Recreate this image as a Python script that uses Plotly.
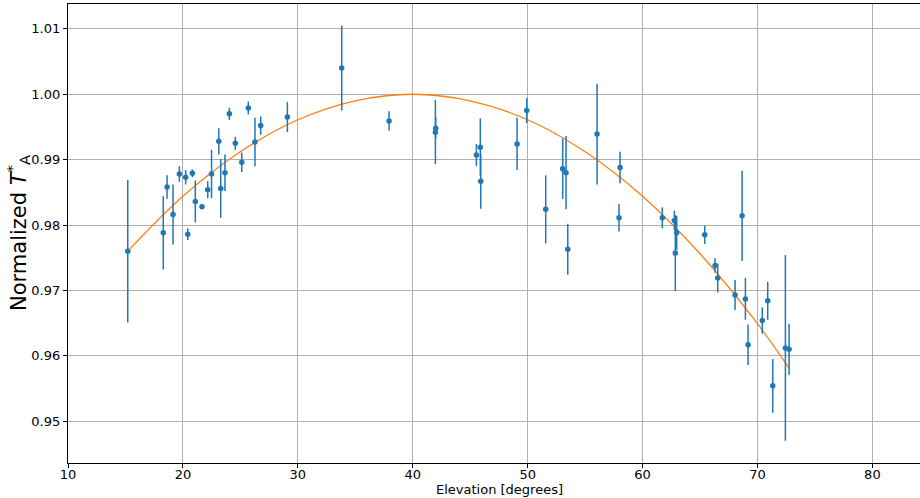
import plotly.graph_objects as go

# Measured points
elevation = [15.2, 18.29, 18.62, 19.14, 19.69, 20.24, 20.42, 20.82, 21.08, 21.66,
             22.16, 22.49, 23.12, 23.29, 23.66, 24.04, 24.56, 25.12, 25.69, 26.27,
             26.77, 29.09, 33.82, 37.94, 41.97, 42.00, 45.54, 45.88, 45.92, 49.08,
             49.92, 51.57, 53.05, 53.34, 53.49, 56.04, 57.95, 58.04, 61.72, 62.77,
             62.85, 62.97, 65.41, 66.31, 66.54, 68.05, 68.66, 68.95, 69.18, 70.42,
             70.89, 71.33, 72.43, 72.75]
norm_ta = [0.9760, 0.9788, 0.9858, 0.9816, 0.9878, 0.9873, 0.9786, 0.9879, 0.9836, 0.9828,
           0.9854, 0.9878, 0.9928, 0.9856, 0.9880, 0.9970, 0.9925, 0.9896, 0.9979, 0.9927,
           0.9952, 0.9965, 1.0040, 0.9959, 0.9942, 0.9948, 0.9907, 0.9919, 0.9867, 0.9924,
           0.9975, 0.9824, 0.9886, 0.9880, 0.9763, 0.9939, 0.9811, 0.9888, 0.9811, 0.9807,
           0.9757, 0.9788, 0.9785, 0.9738, 0.9719, 0.9693, 0.9814, 0.9687, 0.9617, 0.9654,
           0.9684, 0.9554, 0.9612, 0.9610]
norm_err = [0.0109, 0.0056, 0.0018, 0.0046, 0.0012, 0.0011, 0.0009, 0.0006, 0.0032, 0.0002,
            0.0013, 0.0037, 0.0020, 0.0045, 0.0028, 0.00095, 0.0010, 0.0015, 0.0010, 0.0037,
            0.0014, 0.0023, 0.0065, 0.0015, 0.0049, 0.0016, 0.0017, 0.0044, 0.0042, 0.0040,
            0.0019, 0.0052, 0.0046, 0.0056, 0.0039, 0.0077, 0.0021, 0.0024, 0.0016, 0.0015,
            0.0058, 0.0026, 0.0014, 0.0011, 0.0022, 0.0023, 0.0069, 0.0032, 0.0031, 0.0020,
            0.0029, 0.0041, 0.0142, 0.0039]

# Fit curve
fit_elev = [15.2, 20, 25, 30, 35, 40, 45, 50, 55, 60, 65, 70, 72.75]
fit_val = [0.9760, 0.9844, 0.9912, 0.9961, 0.9990, 1.0000, 0.9990, 0.9961, 0.9912,
           0.9844, 0.9756, 0.9649, 0.9581]

x_ticks = [10, 20, 30, 40, 50, 60, 70, 80]
y_ticks = [0.95, 0.96, 0.97, 0.98, 0.99, 1.00, 1.01]

fig = go.Figure()
fig.add_trace(go.Scatter(
    x=fit_elev, y=fit_val, mode="lines",
    line=dict(color="#ff7f0e", width=1.3, shape="spline", smoothing=1.0),
    showlegend=False, hoverinfo="skip"))
fig.add_trace(go.Scatter(
    x=elevation, y=norm_ta, mode="markers",
    marker=dict(color="#1f77b4", size=5.5),
    error_y=dict(type="data", array=norm_err, visible=True,
                 color="#1f77b4", thickness=1.5, width=0),
    showlegend=False))

axis_common = dict(
    showline=True, linecolor="black", linewidth=1.2, mirror=True,
    ticks="outside", ticklen=4, tickcolor="black",
    showgrid=True, gridcolor="#b0b0b0", gridwidth=1,
    zeroline=False, automargin=False,
    tickfont=dict(family="DejaVu Sans", size=13, color="black"),
)

fig.update_xaxes(range=[10, 85.1], tickvals=x_ticks, ticktext=[str(v) for v in x_ticks],
                 ticklabelstandoff=-5,
                 title=dict(text="Elevation [degrees]", standoff=0,
                            font=dict(family="DejaVu Sans", size=13, color="black")),
                 **axis_common)
fig.update_yaxes(range=[0.9436, 1.0138], tickvals=y_ticks,
                 ticktext=[f"{v:.2f}" for v in y_ticks],
                 **axis_common)

fig.add_annotation(
    text="Normalized <i>T</i><sup>*</sup><sub>A</sub>",
    xref="paper", yref="paper", x=-0.0585, y=0.5,
    xanchor="center", yanchor="middle", textangle=-90, showarrow=False,
    font=dict(family="DejaVu Sans", size=21, color="black"))

fig.update_layout(
    width=931, height=498,
    margin=dict(l=68, r=0, t=4, b=35, autoexpand=False),
    plot_bgcolor="white", paper_bgcolor="white",
    font=dict(family="DejaVu Sans", color="black"),
)

fig.write_html("out.html", config={"displayModeBar": False},
               post_script="document.body.style.margin='0';document.body.style.overflow='hidden';")
